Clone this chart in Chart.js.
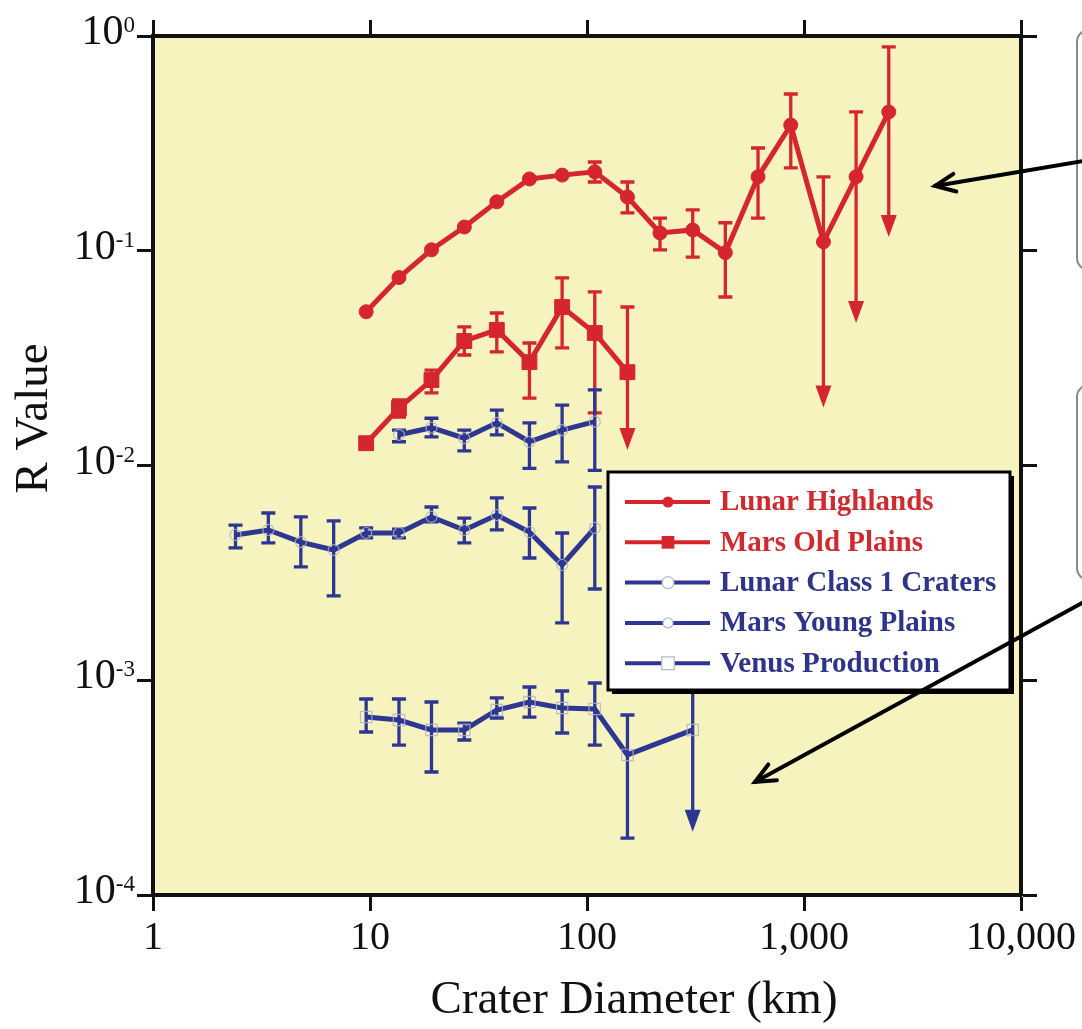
<!DOCTYPE html>
<html><head><meta charset="utf-8">
<script src="https://cdn.jsdelivr.net/npm/chart.js@4.4.1/dist/chart.umd.min.js"></script>
<style>html,body{margin:0;padding:0;background:#fff;}#wrap{width:1082px;height:1029px;}</style>
</head><body><div id="wrap"><canvas id="c" width="1082" height="1029"></canvas></div>
<script>
// ---- tick labels ----
const xTickValues = [1, 10, 100, 1000, 10000];
const xTickLabels = ['1', '10', '100', '1,000', '10,000'];
const yTickValues = [0.0001, 0.001, 0.01, 0.1, 1];
const yTickBase = '10';
const yTickExponents = ['-4', '-3', '-2', '-1', '0'];
const xTitle = 'Crater Diameter (km)';
const yTitle = 'R Value';
const seriesNames = ['Lunar Highlands', 'Mars Old Plains', 'Lunar Class 1 Craters', 'Mars Young Plains', 'Venus Production'];

// ---- Lunar Highlands ----
const lunarHighlandsD  = [9.6, 13.6, 19.2, 27.2, 38.4, 54.3, 76.8, 108.6, 153.6, 217, 307, 434, 614, 869, 1229, 1738, 2458];
const lunarHighlandsR  = [0.052, 0.075, 0.101, 0.129, 0.169, 0.216, 0.225, 0.233, 0.178, 0.121, 0.125, 0.098, 0.221, 0.385, 0.110, 0.221, 0.443];
const lunarHighlandsHi = [null, null, null, null, null, null, null, 0.259, 0.209, 0.142, 0.155, 0.135, 0.301, 0.537, 0.221, 0.443, 0.889];
const lunarHighlandsLo = [null, null, null, null, null, null, null, 0.209, 0.150, 0.101, 0.0933, 0.0609, 0.142, 0.243, 0.0186, 0.0461, 0.116];
const lunarHighlandsArrowAt = [14, 15, 16];

// ---- Mars Old Plains ----
const marsOldD  = [9.6, 13.6, 19.2, 27.2, 38.4, 54.3, 76.8, 108.6, 153.6];
const marsOldR  = [0.0127, 0.0185, 0.0250, 0.0380, 0.0428, 0.0303, 0.0547, 0.0414, 0.0272];
const marsOldHi = [null, 0.0202, 0.0278, 0.0442, 0.0513, 0.0372, 0.0747, 0.0643, 0.0547];
const marsOldLo = [null, 0.0168, 0.0218, 0.0327, 0.0338, 0.0206, 0.0353, 0.0176, 0.0118];
const marsOldArrowAt = [8];

// ---- Lunar Class 1 Craters ----
const lunarClass1D  = [13.6, 19.2, 27.2, 38.4, 54.3, 76.8, 108.6];
const lunarClass1R  = [0.0139, 0.0150, 0.0134, 0.0158, 0.0129, 0.0146, 0.0160];
const lunarClass1Hi = [0.0146, 0.0166, 0.0146, 0.0181, 0.0158, 0.0191, 0.0225];
const lunarClass1Lo = [0.0129, 0.0136, 0.0117, 0.0139, 0.0097, 0.0104, 0.0095];

// ---- Mars Young Plains ----
const marsYoungD  = [2.4, 3.4, 4.8, 6.8, 9.6, 13.6, 19.2, 27.2, 38.4, 54.3, 76.8, 108.6];
const marsYoungR  = [0.00475, 0.00501, 0.00440, 0.00404, 0.00485, 0.00485, 0.00576, 0.00501, 0.00588, 0.00490, 0.00344, 0.00512];
const marsYoungHi = [0.00528, 0.00601, 0.00576, 0.00552, 0.00512, 0.00506, 0.00641, 0.00569, 0.00706, 0.00634, 0.00485, 0.00794];
const marsYoungLo = [0.00413, 0.00436, 0.00337, 0.00247, 0.00460, 0.00460, 0.00546, 0.00436, 0.00501, 0.00371, 0.00185, 0.00266];

// ---- Venus Production ----
const venusD  = [9.6, 13.6, 19.2, 27.2, 38.4, 54.3, 76.8, 108.6, 153.6, 307];
const venusR  = [0.000674, 0.000653, 0.000587, 0.000587, 0.000727, 0.000792, 0.000743, 0.000735, 0.000449, 0.000587];
const venusHi = [0.000818, 0.000818, 0.000792, 0.000632, 0.000827, 0.000930, 0.000891, 0.000971, 0.000689, 0.00105];
const venusLo = [0.000574, 0.000499, 0.000374, 0.000527, 0.000667, 0.000674, 0.000568, 0.000499, 0.000184, 0.000197];
const venusArrowAt = [9];

const RED = '#D6262D';
const BLUE = '#2D3791';
const RED_TXT = '#CF2A30';
const BLUE_TXT = '#2E3589';
const PLOT_BG = '#F6F3BF';
const SERIF = '"Liberation Serif", "Times New Roman", serif';

function pts(xs, ys) { return xs.map((x, i) => ({ x: x, y: ys[i] })); }

function mkSet(i, xs, ys, hi, lo, arrows, color, txtColor, style, radius, filled, legendRadius) {
  return {
    label: seriesNames[i],
    data: pts(xs, ys),
    errHi: hi, errLo: lo, arrowAt: arrows || [],
    legendText: txtColor, legendRadius: legendRadius,
    borderColor: color,
    backgroundColor: filled ? color : 'rgba(0,0,0,0)',
    borderWidth: 5,
    pointStyle: style,
    pointRadius: radius,
    pointBorderColor: filled ? color : 'rgba(175,178,200,0.85)',
    pointBackgroundColor: filled ? color : 'rgba(0,0,0,0)',
    pointBorderWidth: filled ? 1 : 1.2,
    tension: 0, showLine: true, fill: false
  };
}

const datasets = [
  mkSet(0, lunarHighlandsD, lunarHighlandsR, lunarHighlandsHi, lunarHighlandsLo, lunarHighlandsArrowAt, RED, RED_TXT, 'circle', 7, true, 5.5),
  mkSet(1, marsOldD, marsOldR, marsOldHi, marsOldLo, marsOldArrowAt, RED, RED_TXT, 'rect', 10.5, true, 9),
  mkSet(2, lunarClass1D, lunarClass1R, lunarClass1Hi, lunarClass1Lo, [], BLUE, BLUE_TXT, 'circle', 5.5, false, 6),
  mkSet(3, marsYoungD, marsYoungR, marsYoungHi, marsYoungLo, [], BLUE, BLUE_TXT, 'circle', 5.5, false, 5),
  mkSet(4, venusD, venusR, venusHi, venusLo, venusArrowAt, BLUE, BLUE_TXT, 'rect', 8, false, 9)
];

const plotBg = {
  id: 'plotBg',
  beforeDraw(chart) {
    const { ctx, chartArea: a } = chart;
    ctx.save(); ctx.fillStyle = PLOT_BG;
    ctx.fillRect(a.left, a.top, a.right - a.left, a.bottom - a.top);
    ctx.restore();
  }
};

const errorBars = {
  id: 'errorBars',
  beforeDatasetsDraw(chart) {
    const { ctx } = chart;
    const xs = chart.scales.x, ys = chart.scales.y;
    ctx.save();
    chart.data.datasets.forEach(ds => {
      ctx.strokeStyle = ds.borderColor; ctx.fillStyle = ds.borderColor;
      ctx.lineWidth = 3.3; ctx.lineCap = 'butt';
      ds.data.forEach((p, i) => {
        const hi = ds.errHi[i], lo = ds.errLo[i];
        if (hi == null || lo == null) return;
        const px = xs.getPixelForValue(p.x);
        const yh = ys.getPixelForValue(hi), yl = ys.getPixelForValue(lo);
        const arrow = ds.arrowAt.indexOf(i) >= 0;
        const cap = 7;
        ctx.beginPath();
        ctx.moveTo(px, yh); ctx.lineTo(px, arrow ? yl - 18 : yl);
        ctx.moveTo(px - cap, yh); ctx.lineTo(px + cap, yh);
        if (!arrow) { ctx.moveTo(px - cap, yl); ctx.lineTo(px + cap, yl); }
        ctx.stroke();
        if (arrow) {
          ctx.beginPath();
          ctx.moveTo(px - 8, yl - 22); ctx.lineTo(px + 8, yl - 22); ctx.lineTo(px, yl);
          ctx.closePath(); ctx.fill();
        }
      });
    });
    ctx.restore();
  }
};

// y tick labels with a true superscript exponent, placed through the y scale
const yLabels = {
  id: 'yLabels',
  afterDraw(chart) {
    const { ctx } = chart;
    const ys = chart.scales.y;
    const right = ys.right - 16 - 2;
    ctx.save();
    ctx.fillStyle = '#111';
    ctx.textBaseline = 'alphabetic';
    yTickValues.forEach((v, i) => {
      const py = ys.getPixelForValue(v);
      ctx.font = '23px ' + SERIF;
      const ew = ctx.measureText(yTickExponents[i]).width;
      ctx.textAlign = 'left';
      ctx.fillText(yTickExponents[i], right - ew, py - 4);
      ctx.font = '42px ' + SERIF;
      ctx.textAlign = 'right';
      ctx.fillText(yTickBase, right - ew, py + 8);
    });
    ctx.restore();
  }
};

const boxLegend = {
  id: 'boxLegend',
  afterDatasetsDraw(chart) {
    const { ctx } = chart;
    const bx = 608, by = 472, bw = 402, bh = 218;
    ctx.save();
    ctx.fillStyle = '#000';
    ctx.fillRect(bx + 4, by + 4, bw, bh);
    ctx.fillStyle = '#fff';
    ctx.fillRect(bx, by, bw, bh);
    ctx.lineWidth = 3; ctx.strokeStyle = '#000';
    ctx.strokeRect(bx, by, bw, bh);
    chart.data.datasets.forEach((ds, i) => {
      const y = 502 + i * 40.3;
      ctx.strokeStyle = ds.borderColor; ctx.lineWidth = 4;
      ctx.beginPath(); ctx.moveTo(625, y); ctx.lineTo(710, y); ctx.stroke();
      const r = ds.legendRadius;
      if (ds.pointStyle === 'circle') {
        ctx.beginPath(); ctx.arc(668, y, r, 0, Math.PI * 2);
      } else {
        const s = r * Math.SQRT1_2;
        ctx.beginPath(); ctx.rect(668 - s, y - s, 2 * s, 2 * s);
      }
      if (ds.pointBackgroundColor !== 'rgba(0,0,0,0)') {
        ctx.fillStyle = ds.pointBackgroundColor; ctx.fill();
      } else {
        ctx.fillStyle = '#fff'; ctx.fill();
        ctx.strokeStyle = 'rgba(175,178,200,0.9)'; ctx.lineWidth = 1.3; ctx.stroke();
      }
      ctx.fillStyle = ds.legendText;
      ctx.font = 'bold 29px ' + SERIF;
      ctx.textBaseline = 'middle'; ctx.textAlign = 'left';
      ctx.fillText(ds.label, 720, y + 1);
    });
    ctx.restore();
  },
  afterDraw(chart) {
    const { ctx } = chart;
    ctx.save();
    // partially visible callout boxes at the right edge
    ctx.strokeStyle = '#8a8a8a'; ctx.lineWidth = 2; ctx.fillStyle = '#fff';
    [[1077, 30, 240], [1077, 385, 195]].forEach(([x, y, h]) => {
      ctx.beginPath(); ctx.roundRect(x, y, 60, h, 12); ctx.fill(); ctx.stroke();
    });
    // arrows
    ctx.strokeStyle = '#000'; ctx.lineWidth = 4; ctx.lineCap = 'round';
    [[1084, 161, 935, 186], [1084, 602, 755, 782]].forEach(([x0, y0, x1, y1]) => {
      ctx.beginPath(); ctx.moveTo(x0, y0); ctx.lineTo(x1, y1); ctx.stroke();
      const ang = Math.atan2(y0 - y1, x0 - x1);
      const L = 22, sp = 0.42;
      ctx.beginPath();
      ctx.moveTo(x1 + L * Math.cos(ang + sp), y1 + L * Math.sin(ang + sp));
      ctx.lineTo(x1, y1);
      ctx.lineTo(x1 + L * Math.cos(ang - sp), y1 + L * Math.sin(ang - sp));
      ctx.stroke();
    });
    ctx.restore();
  }
};

function axisBase(values) {
  return {
    type: 'logarithmic',
    afterBuildTicks(scale) { scale.ticks = values.map(v => ({ value: v, major: true })); },
    grid: { display: true, drawOnChartArea: false, drawTicks: true, tickLength: 16, tickWidth: 3, tickColor: '#111' },
    border: { display: true, width: 4, color: '#111' }
  };
}

const sp = '        ';
new Chart(document.getElementById('c'), {
  type: 'line',
  data: { datasets: datasets },
  plugins: [plotBg, errorBars, boxLegend, yLabels],
  options: {
    responsive: false, animation: false, events: [],
    layout: { padding: 0 },
    plugins: { legend: { display: false }, tooltip: { enabled: false } },
    scales: {
      x: Object.assign(axisBase(xTickValues), {
        position: 'bottom', min: 1, max: 10000,
        afterFit(s) { s.height = 134; },
        ticks: { autoSkip: false, maxRotation: 0, padding: 3, color: '#111',
          font: { family: SERIF, size: 40 },
          callback: (v, i) => xTickLabels[i] },
        title: { display: true, text: sp + xTitle, color: '#111', padding: { top: 0, bottom: 0 },
          font: { family: SERIF, size: 47 } }
      }),
      x2: Object.assign(axisBase(xTickValues), {
        position: 'top', min: 1, max: 10000,
        afterFit(s) { s.height = 36; },
        ticks: { display: false }
      }),
      y: Object.assign(axisBase(yTickValues), {
        position: 'left', min: 0.0001, max: 1,
        afterFit(s) { s.width = 153; },
        ticks: { display: false },
        title: { display: true, text: sp + yTitle, color: '#111', padding: { top: 6, bottom: 0 },
          font: { family: SERIF, size: 47 } }
      }),
      y2: Object.assign(axisBase(yTickValues), {
        position: 'right', min: 0.0001, max: 1,
        afterFit(s) { s.width = 61; },
        ticks: { display: false }
      })
    }
  }
});
</script>
</body></html>
